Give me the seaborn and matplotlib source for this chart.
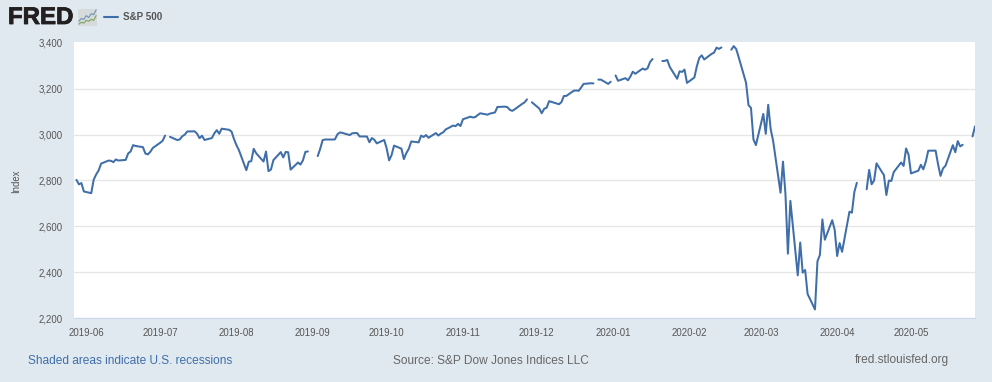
import matplotlib
matplotlib.use('Agg')
import matplotlib.pyplot as plt
import matplotlib.dates as mdates
import matplotlib.patheffects as pe
import seaborn as sns
import pandas as pd
import numpy as np

nan = float("nan")

# daily close, business days, nan on market holidays (shows as gaps)
start_date = "2019-05-28"
end_date = "2020-05-27"
sp500 = [
    2802.39, 2783.02, 2788.86, 2752.06,
    2744.45, 2803.27, 2826.15, 2843.49, 2873.34, 2886.73, 2885.72, 2879.84, 2891.64, 2886.98,
    2889.67, 2917.75, 2926.46, 2954.18, 2950.46, 2945.35, 2917.38, 2913.78, 2924.92, 2941.76,
    2964.33, 2973.01, 2995.82, nan, 2990.41, 2975.95, 2979.63, 2993.07, 2999.91, 3013.77,
    3014.30, 3004.04, 2984.42, 2995.11, 2976.61, 2985.03, 3005.47, 3019.56, 3003.67, 3025.86,
    3020.97, 3013.18, 2980.38, 2953.56, 2932.05, 2844.74, 2881.77, 2883.98, 2938.09, 2918.65,
    2882.70, 2926.32, 2840.60, 2847.60, 2888.68, 2923.65, 2900.51, 2924.43, 2922.95, 2847.11,
    2878.38, 2869.16, 2887.94, 2924.58, 2926.46,
    nan, 2906.27, 2937.78, 2976.00, 2978.71, 2978.43, 2979.39, 3000.93, 3009.57, 3007.39,
    2997.96, 3005.70, 3006.73, 3006.79, 2992.07, 2991.78, 2966.60, 2984.87, 2977.62, 2961.79,
    2976.74, 2940.25, 2887.61, 2910.63, 2952.01, 2938.79, 2893.06, 2919.40, 2938.13, 2970.27,
    2966.15, 2995.68, 2989.69, 2997.95, 2986.20, 3006.72, 2995.99, 3004.52, 3010.29, 3022.55,
    3039.42, 3036.89, 3046.77, 3037.56, 3066.91, 3078.27, 3074.62, 3076.78, 3085.18, 3093.08,
    3087.01, 3091.84, 3094.04, 3096.63, 3120.46, 3122.03, 3120.18, 3108.46, 3103.54, 3110.29,
    3133.64, 3140.52, 3153.63, nan, 3140.98, 3113.87, 3093.20, 3112.76, 3117.43, 3145.91,
    3135.96, 3132.52, 3141.63, 3168.57, 3168.80, 3191.45, 3192.52, 3191.14, 3205.37, 3221.22,
    3224.01, 3223.38, nan, 3239.91, 3240.02, 3221.29, 3230.78, nan, 3257.85, 3234.85,
    3246.28, 3237.18, 3253.05, 3274.70, 3265.35, 3288.13, 3283.15, 3289.29, 3316.81, 3329.62,
    nan, 3320.79, 3321.75, 3325.54, 3295.47, 3243.63, 3276.24, 3273.40, 3283.66, 3225.52,
    3248.92, 3297.59, 3334.69, 3345.78, 3327.71, 3352.09, 3357.75, 3379.45, 3373.94, 3380.16,
    nan, 3370.29, 3386.15, 3373.23, 3337.75, 3225.89, 3128.21, 3116.39, 2978.76, 2954.22,
    3090.23, 3003.37, 3130.12, 3023.94, 2972.37, 2746.56, 2882.23, 2741.38, 2480.64, 2711.02,
    2386.13, 2529.19, 2398.10, 2409.39, 2304.92, 2237.40, 2447.33, 2475.56, 2630.07, 2541.47,
    2626.65, 2584.59, 2470.50, 2526.90, 2488.65, 2663.68, 2659.41, 2749.98, 2789.82, nan,
    2761.63, 2846.06, 2783.36, 2799.55, 2874.56, 2823.16, 2736.56, 2799.31, 2797.80, 2836.74,
    2878.48, 2863.39, 2939.51, 2912.43, 2830.71, 2842.74, 2868.44, 2848.42, 2881.19, 2929.80,
    2930.19, 2870.12, 2820.00, 2852.50, 2863.70, 2953.91, 2922.94, 2971.61, 2948.51, 2955.45,
    nan, 2991.77, 3036.13,
]
y_ticks = [2200, 2400, 2600, 2800, 3000, 3200, 3400]

# little chart icon next to the logo
icon_blue = [2.5, 4, 3.5, 5.5, 4.5, 6.5, 6, 8.5]
icon_green = [1, 2, 1.5, 3, 2.5, 3.5, 3, 5.5]

BG = "#E1E9F0"
LINE = "#3F6EA8"
W, H = 992, 382

df = pd.DataFrame({"date": pd.bdate_range(start_date, end_date), "value": sp500})
df["segment"] = df["value"].isna().cumsum()

sns.set_style("white")
plt.rcParams["font.family"] = ["Liberation Sans", "DejaVu Sans"]

fig = plt.figure(figsize=(W / 100, H / 100), dpi=100, facecolor=BG)
ax = fig.add_axes([74 / W, 1 - 318 / H, (975 - 74) / W, (318 - 42) / H])

sns.lineplot(data=df, x="date", y="value", units="segment", estimator=None,
             color=LINE, linewidth=1.45, ax=ax)

ax.set_xlim(pd.Timestamp("2019-05-27"), pd.Timestamp("2020-05-27"))
ax.set_ylim(2200, 3404)
ax.set_yticks(y_ticks)
ax.set_yticklabels([f"{v:,}" for v in y_ticks])
ax.xaxis.set_major_locator(mdates.MonthLocator())
ax.xaxis.set_major_formatter(mdates.DateFormatter("%Y-%m"))

ax.grid(axis="y", color="#E6E6E6", linewidth=0.9)
ax.set_axisbelow(True)
ax.yaxis.get_gridlines()[-1].set_visible(False)
for side in ["top", "left", "right"]:
    ax.spines[side].set_visible(False)
ax.spines["bottom"].set_color("#CCD6EB")
ax.spines["bottom"].set_linewidth(0.8)
ax.tick_params(axis="x", length=4, width=0.8, color="#CCD6EB", labelcolor="#555555",
               labelsize=6.9, pad=3)
ax.tick_params(axis="y", length=0, labelcolor="#555555", labelsize=6.9, pad=8)
ax.set_xlabel("")
ax.set_ylabel("")

def px_text(x, y, s, **kw):
    return fig.text(x / W, 1 - y / H, s, va="center", **kw)

px_text(16, 181, "Index", rotation=90, ha="center", fontsize=6.9, color="#555555")
logo = px_text(8, 17.5, "FRED", ha="left", fontsize=17.3, fontweight="bold", color="#231F20")
logo.set_path_effects([pe.withStroke(linewidth=0.6, foreground="#231F20")])
px_text(123, 16.5, "S&P 500", ha="left", fontsize=7.1, fontweight="bold", color="#555555")
px_text(28, 360.5, "Shaded areas indicate U.S. recessions", ha="left", fontsize=8.6, color="#3F6EA8")
px_text(393, 360.5, "Source: S&P Dow Jones Indices LLC", ha="left", fontsize=8.6, color="#666666")
px_text(949, 360.5, "fred.stlouisfed.org", ha="right", fontsize=8.6, color="#666666")

# legend key
fig.add_artist(plt.Line2D([104 / W, 118 / W], [1 - 17 / H, 1 - 17 / H], color=LINE, linewidth=1.5))

# icon
icon = fig.add_axes([78 / W, 1 - 26 / H, 19 / W, 17 / H], facecolor="#D6DADB")
icon.plot(icon_blue, color="#6F93B5", linewidth=0.8)
icon.plot(icon_green, color="#7FA35E", linewidth=0.8)
icon.set_xticks([])
icon.set_yticks([])
icon.set_ylim(0, 9)
for s in icon.spines.values():
    s.set_visible(False)

fig.savefig("out.png", dpi=100, facecolor=BG)
plt.close()
